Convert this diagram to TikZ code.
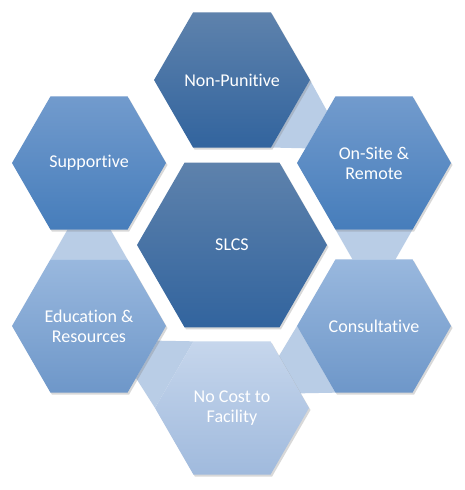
\documentclass[tikz,border=0pt]{standalone}
\usepackage{fontspec}
\setmainfont{Carlito}[RawFeature={-liga}]
\usetikzlibrary{shapes.geometric,shadows,calc}
\pgfdeclarelayer{bg}
\pgfsetlayers{bg,main}
\definecolor{npTop}{RGB}{94,130,172}
\definecolor{npBot}{RGB}{50,100,158}
\definecolor{midTop}{RGB}{114,155,205}
\definecolor{midBot}{RGB}{70,125,187}
\definecolor{ltTop}{RGB}{153,184,222}
\definecolor{ltBot}{RGB}{110,151,201}
\definecolor{paleTop}{RGB}{198,214,236}
\definecolor{paleBot}{RGB}{160,186,221}
\definecolor{connC}{RGB}{185,205,230}
\tikzset{
  hexa/.style={regular polygon, regular polygon sides=6, minimum size=154pt,
    inner sep=0pt, outer sep=0pt, text=white, align=center,
    font=\fontsize{18}{20}\selectfont,
    drop shadow={shadow xshift=1.5pt, shadow yshift=-2pt, opacity=0.3}},
  bigHexa/.style={hexa, minimum size=190pt},
  darkHex/.style={top color=npTop, bottom color=npBot},
  midHex/.style={top color=midTop, bottom color=midBot},
  ltHex/.style={top color=ltTop, bottom color=ltBot},
  paleHex/.style={top color=paleTop, bottom color=paleBot},
  connFill/.style={fill=connC}
}
\newcommand\conn[6]{\fill[connFill] (#1.#2) -- (#1.#3) -- ($(#4.#5)!0.22!(#4.#6)$) -- ($(#4.#5)!0.78!(#4.#6)$) -- cycle;}
\begin{document}
\begin{tikzpicture}[x=1pt,y=-1pt]
  \useasboundingbox (0,0) rectangle (465,490);
  \node[bigHexa, darkHex] (SLCS) at (232,245) {SLCS};
  \node[hexa, darkHex] (NP) at (232,80) {Non-Punitive};
  \node[hexa, midHex] (OS) at (374,163) {On-Site \&\\Remote};
  \node[hexa, ltHex] (CO) at (374,326) {Consultative};
  \node[hexa, paleHex] (NC) at (232,408) {No Cost to\\Facility};
  \node[hexa, ltHex] (ED) at (89,326) {Education \&\\Resources};
  \node[hexa, midHex] (SU) at (89,163) {Supportive};
  \begin{pgfonlayer}{bg}
    \fill[white] (0,0) rectangle (465,490);
    \conn{NP}{0}{300}{OS}{180}{120}
    \conn{OS}{300}{240}{CO}{120}{60}
    \conn{CO}{240}{180}{NC}{60}{0}
    \conn{NC}{180}{120}{ED}{0}{300}
    \conn{ED}{120}{60}{SU}{300}{240}
  \end{pgfonlayer}
\end{tikzpicture}
\end{document}
